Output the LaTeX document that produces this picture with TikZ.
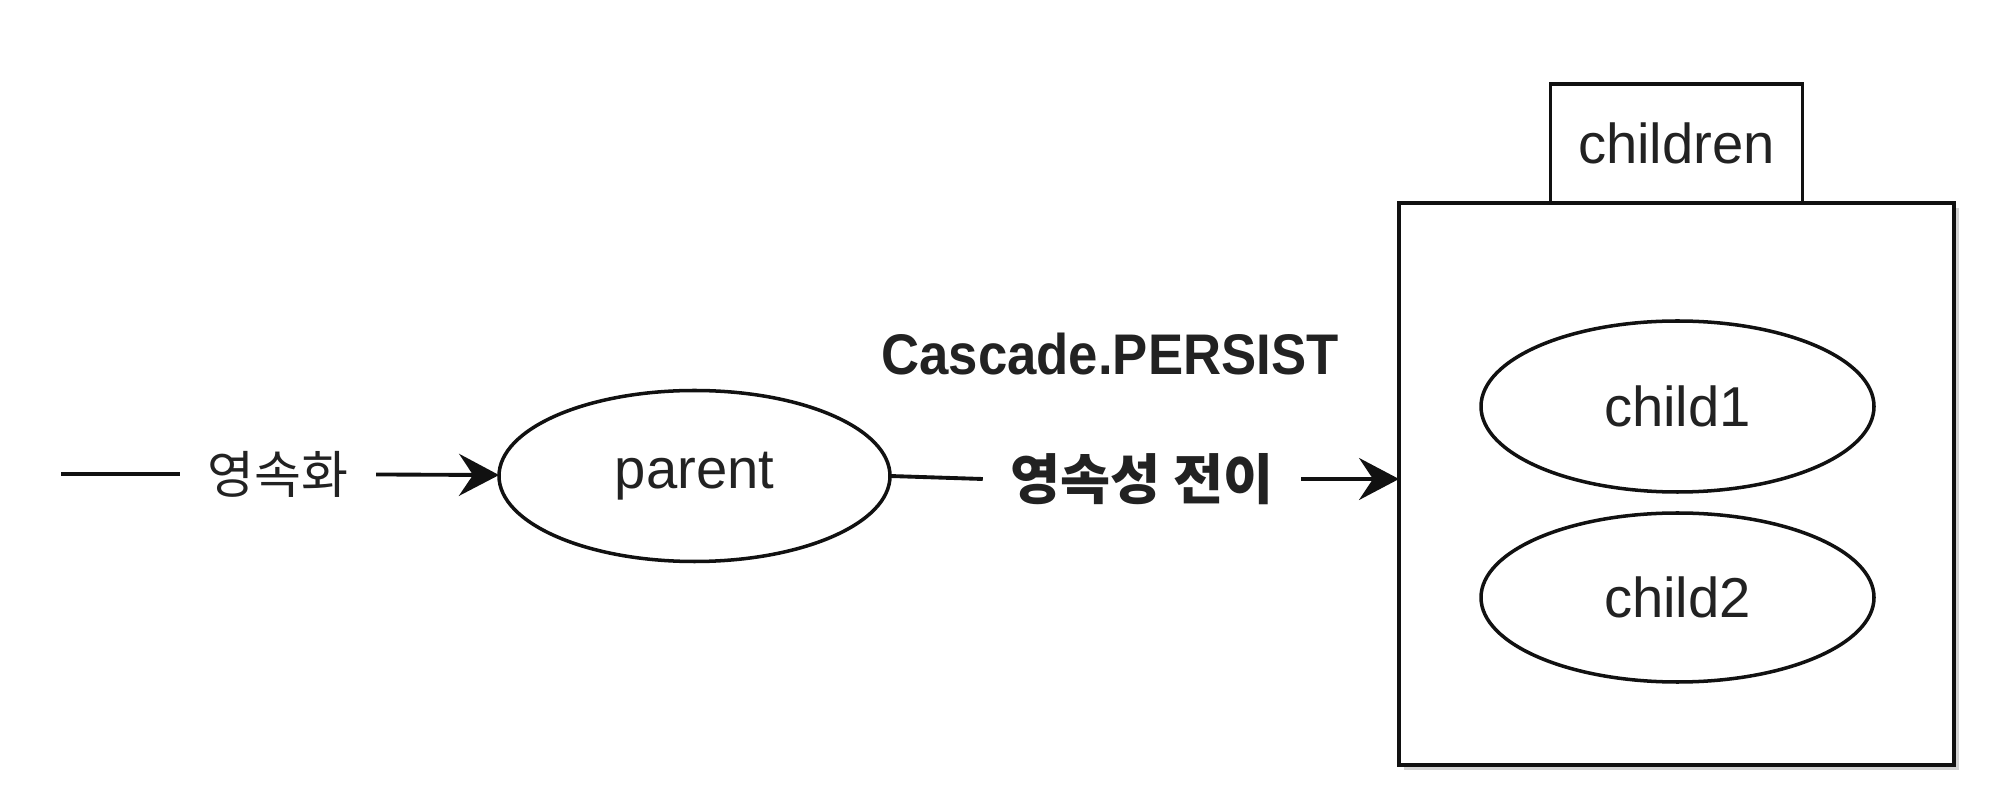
\documentclass[tikz,border=0pt]{standalone}
\usepackage{fontspec}
\setmainfont{Liberation Sans}
\newfontfamily\krfont{Noto Sans CJK KR}
\newfontfamily\casefont[FakeStretch=0.92]{Liberation Sans}
\usetikzlibrary{arrows.meta, positioning, shapes.geometric, shadows}
\definecolor{inkline}{HTML}{111111}
\definecolor{inktext}{HTML}{222222}

\begin{document}
\begin{tikzpicture}[
      every node/.style={text=inktext},
      obj/.style={ellipse, draw=inkline, line width=1pt, minimum width=3.93cm, minimum height=1.71cm,
                  inner sep=0pt, outer sep=0pt, font=\fontsize{16}{19}\selectfont},
      holder/.style={rectangle, draw=inkline, line width=1.1pt, fill=white, inner sep=0pt, outer sep=0pt},
      lbl/.style={inner xsep=0.27cm, inner ysep=2pt, font=\krfont\fontsize{14.5}{17}\selectfont},
      arr/.style={-{Stealth[length=4mm, width=4.2mm, inset=1.4mm]}, line width=1.1pt, draw=inkline},
      lin/.style={line width=1.1pt, draw=inkline}
    ]
    \useasboundingbox (0,0) rectangle (20,8.08);
    \node[holder, minimum width=5.55cm, minimum height=5.62cm,
          drop shadow={shadow xshift=0.05cm, shadow yshift=-0.05cm, opacity=0.35, fill=gray}] (box) at (16.765,3.24) {};
    \node[holder, minimum width=2.52cm, minimum height=1.19cm, above=0pt of box.north,
          font=\fontsize{16}{19}\selectfont] (tab) {children};
    \node[obj] (child1) at (16.775,4.015) {child1};
    \node[obj, minimum height=1.69cm] (child2) at (16.775,2.105) {child2};
    \node[obj, minimum width=3.91cm] (parent) at (6.945,3.32) {parent};
    \coordinate (start) at (0.61,3.34);
    \node[lbl] (persist) at (2.78,3.34) {영속화};
    \node[lbl, font=\krfont\bfseries\fontsize{15.5}{18}\selectfont] (trans) at (11.42,3.29) {영속성 전이};
    \node[font=\casefont\bfseries\fontsize{16.3}{19}\selectfont, above=0.58cm of trans, xshift=-0.32cm] (cascade) {Cascade.PERSIST};
    \draw[lin] (start) -- (persist);
    \draw[arr] (persist) -- (parent);
    \draw[lin] (parent.east) -- (trans.west);
    \draw[arr] (trans) -- (trans -| box.west);
  \end{tikzpicture}
\end{document}
